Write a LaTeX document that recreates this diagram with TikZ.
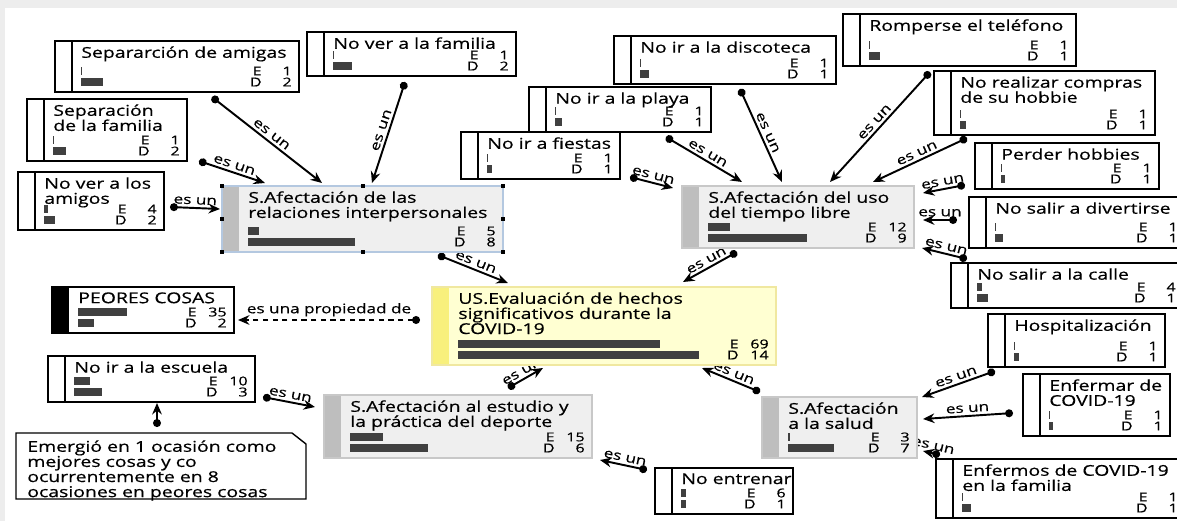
\documentclass[tikz,border=0pt]{standalone}
\usepackage{fontspec}
\setmainfont{Open Sans}[FakeStretch=1.3, FakeBold=0.5]
\usetikzlibrary{arrows.meta,calc,fit}

\definecolor{framegray}{HTML}{EDEDED}
\definecolor{bargray}{HTML}{404040}
\definecolor{catfill}{HTML}{EFEFEF}
\definecolor{catstripe}{HTML}{BEBEBE}
\definecolor{catline}{HTML}{C8C8C8}
\definecolor{selline}{HTML}{B4C8E0}
\definecolor{usfill}{HTML}{FFFFD2}
\definecolor{usstripe}{HTML}{F8F07C}
\definecolor{usline}{HTML}{F0E8A0}

\pgfdeclarelayer{bg}
\pgfdeclarelayer{edges}
\pgfsetlayers{bg,edges,main}

% concept box: [style] name, corner, corner, title, E bar, E, D bar, D
\newcommand{\concept}[9][code]{%
  \node[fit={(#3) (#4)}, inner sep=0pt, outer sep=0pt, #1] (#2) {};
  \path[#1 stripe] (#2.north west) rectangle ($(#2.south west)+(17,0)$);
  \draw[#1, fill=none] (#2.north west) rectangle (#2.south east);
  \node[ctitle, anchor=north west] at ($(#2.north west)+(26,5)$) {#5};
  \fill[bar] ($(#2.south west)+(26,-25)$) rectangle +(#6,8);
  \fill[bar] ($(#2.south west)+(26,-14)$) rectangle +(#8,8);
  \node[cnum, anchor=east] at ($(#2.south east)+(-7,-21)$) {E\hspace{8pt}\makebox[1.3em][r]{#7}};
  \node[cnum, anchor=east] at ($(#2.south east)+(-7,-10)$) {D\hspace{8pt}\makebox[1.3em][r]{#9}};
}

\begin{document}
\begin{tikzpicture}[
x=0.02cm, y=-0.02cm,
code/.style={draw=black, fill=white, line width=0.8pt},
code stripe/.style={draw=black, fill=white, line width=0.8pt},
cat/.style={draw=catline, fill=catfill, line width=0.8pt},
cat stripe/.style={fill=catstripe},
sel/.style={draw=selline, fill=catfill, line width=0.8pt},
sel stripe/.style={fill=catstripe},
core/.style={draw=usline, fill=usfill, line width=0.8pt},
core stripe/.style={fill=usstripe},
prop/.style={draw=black, fill=white, line width=0.8pt},
prop stripe/.style={fill=black},
ctitle/.style={font=\fontsize{8.5}{8.6}\selectfont, align=left, inner sep=0pt},
cnum/.style={font=\fontsize{7}{7}\selectfont, inner sep=0pt},
bar/.style={fill=bargray},
isa/.style={{Circle[length=4.5pt]}-{Stealth[length=6.5pt,width=5.5pt]}, line width=1.1pt},
lbl/.style={font=\fontsize{7.5}{8}\selectfont, midway, sloped, above, inner sep=1.5pt}
]
    \useasboundingbox (0,0) rectangle (1177,521);
    % window frame
    \begin{pgfonlayer}{bg}
    \fill[framegray] (0,0) rectangle (1177,521);
    \fill[white] (5,8) rectangle (1177,521);
    \end{pgfonlayer}

    % relaciones interpersonales
    \concept{sepam}{55,41}{299,92}{Separarción de amigas}{1}{1}{22}{2}
    \concept{sepfam}{27,99}{187,161}{Separación\\de la familia}{1}{1}{13}{2}
    \concept{amigos}{18,172}{164,230}{No ver a los\\amigos}{4}{4}{11}{2}
    \concept{verfam}{307,32}{516,76}{No ver a la familia}{1}{1}{19}{2}
    \concept[sel]{relac}{222,186}{503,252}{S.Afectación de las\\relaciones interpersonales}{11}{5}{107}{8}
    \foreach \h in {north west,north,north east,west,east,south west,south,south east}
      \fill (relac.\h) ++(-2,-2) rectangle ++(4,4);

    % tiempo libre
    \concept{fiestas}{461,132}{620,179}{No ir a fiestas}{1}{1}{5}{1}
    \concept{playa}{529,87}{711,132}{No ir a la playa}{1}{1}{7}{1}
    \concept{disco}{614,36}{836,84}{No ir a la discoteca}{1}{1}{9}{1}
    \concept{telef}{843,14}{1076,66}{Romperse el teléfono}{1}{1}{11}{1}
    \concept{compras}{934,71}{1155,135}{No realizar compras\\de su hobbie}{1}{1}{6}{1}
    \concept{hobbies}{975,143}{1159,189}{Perder hobbies}{1}{1}{4}{1}
    \concept{divert}{969,197}{1185,248}{No salir a divertirse}{1}{1}{8}{1}
    \concept{calle}{951,263}{1183,308}{No salir a la calle}{5}{4}{11}{1}
    \concept[cat]{tiempo}{682,186}{914,248}{S.Afectación del uso\\del tiempo libre}{22}{12}{99}{9}

    % salud
    \concept{hosp}{988,314}{1165,367}{Hospitalización}{1}{1}{5}{1}
    \concept{enfermar}{1023,374}{1170,436}{Enfermar de\\COVID-19}{1}{1}{4}{1}
    \concept{enffam}{936,459}{1185,518}{Enfermos de COVID-19\\en la familia}{1}{1}{9}{1}
    \concept[cat]{salud}{762,397}{917,458}{S.Afectación\\a la salud}{2}{3}{46}{7}

    % estudio y deporte
    \concept{escuela}{48,356}{255,402}{No ir a la escuela}{16}{10}{28}{3}
    \concept{entrenar}{655,468}{793,514}{No entrenar}{5}{6}{5}{1}
    \concept[cat]{estudio}{324,395}{592,458}{S.Afectación al estudio y\\la práctica del deporte}{33}{15}{78}{6}

    % core and property
    \concept[core]{us}{432,287}{776,365}{US.Evaluación de hechos\\significativos durante la\\COVID-19}{202}{69}{241}{14}
    \concept[prop]{peores}{52,287}{234,333}{PEORES COSAS}{49}{35}{16}{2}

    % memo
    \node[fit={(16,433) (306,499)}, inner sep=0pt, outer sep=0pt] (memo) {};
    \draw[line width=0.8pt, fill=white] (memo.south west) -- (memo.north west)
        -- ($(memo.north east)+(-14,0)$) -- ($(memo.north east)+(0,11)$) -- (memo.south east) -- cycle;
    \node[ctitle, anchor=north west] at ($(memo.north west)+(11,7)$)
        {Emergió en 1 ocasión como\\mejores cosas y co\\ocurrentemente en 8\\ocasiones en peores cosas};

    % links
    \begin{pgfonlayer}{edges}
    \draw[isa] ($(sepam.south west)+(157,5)$) -- ($(relac.north west)+(100,-3)$) node[lbl]{es un};
    \draw[isa] ($(sepfam.south east)+(12,0)$) -- ($(relac.north west)+(43,-3)$) node[lbl]{es un};
    \draw[isa] ($(amigos.south east)+(6,-23)$) -- ($(relac.north west)+(-2,23)$) node[lbl]{es un};
    \draw[isa] ($(verfam.south west)+(98,6)$) -- ($(relac.north west)+(150,-3)$) node[lbl]{es un};

    \draw[isa] ($(fiestas.south east)+(10,-2)$) -- ($(tiempo.north west)+(-9,2)$) node[lbl]{es un};
    \draw[isa] ($(playa.south west)+(137,5)$) -- ($(tiempo.north west)+(60,-4)$) node[lbl]{es un};
    \draw[isa] ($(disco.south west)+(126,5)$) -- ($(tiempo.north west)+(100,-4)$) node[lbl]{es un};
    \draw[isa] ($(telef.south west)+(87,6)$) -- ($(tiempo.north west)+(148,-4)$) node[lbl]{es un};
    \draw[isa] ($(compras.south west)+(33,3)$) -- ($(tiempo.north west)+(191,-4)$) node[lbl]{es un};
    \draw[isa] ($(hobbies.south west)+(-10,-4)$) -- ($(tiempo.north east)+(9,7)$) node[lbl]{es un};
    \draw[isa] ($(divert.north west)+(-12,23)$) -- ($(tiempo.north east)+(9,34)$) node[lbl]{es un};
    \draw[isa] ($(calle.north west)+(16,-4)$) -- ($(tiempo.south east)+(8,0)$) node[lbl]{es un};

    \draw[isa] ($(relac.south west)+(216,3)$) -- ($(us.north west)+(76,-4)$) node[lbl]{es un};
    \draw[isa] ($(tiempo.south west)+(55,4)$) -- ($(us.north west)+(251,-5)$) node[lbl]{es un};
    \draw[isa] ($(estudio.north west)+(184,-7)$) -- ($(us.south west)+(111,3)$) node[lbl]{es un};
    \draw[isa] ($(salud.north west)+(-2,-5)$) -- ($(us.south west)+(270,3)$) node[lbl]{es un};

    \draw[isa] ($(escuela.south east)+(8,-5)$) -- ($(estudio.north west)+(-9,12)$) node[lbl]{es un};
    \draw[isa] ($(entrenar.north west)+(-8,2)$) -- ($(estudio.south east)+(8,2)$) node[lbl]{es un};

    \draw[isa] ($(hosp.south west)+(7,4)$) -- ($(salud.north east)+(5,0)$) node[lbl]{es un};
    \draw[isa] ($(enfermar.north west)+(-10,39)$) -- ($(salud.north east)+(6,22)$) node[lbl]{es un};
    \draw[isa] ($(enffam.north west)+(4,-4)$) -- ($(salud.south east)+(6,-7)$) node[lbl]{es un};

    \draw[isa, dash pattern=on 3pt off 2.5pt] ($(us.north west)+(-12,33)$) -- ($(peores.north east)+(4,33)$)
        node[lbl]{es una propiedad de};
    \draw[isa] ($(memo.north west)+(141,-6)$) -- ($(escuela.south west)+(109,1)$);
    \end{pgfonlayer}
\end{tikzpicture}
\end{document}
